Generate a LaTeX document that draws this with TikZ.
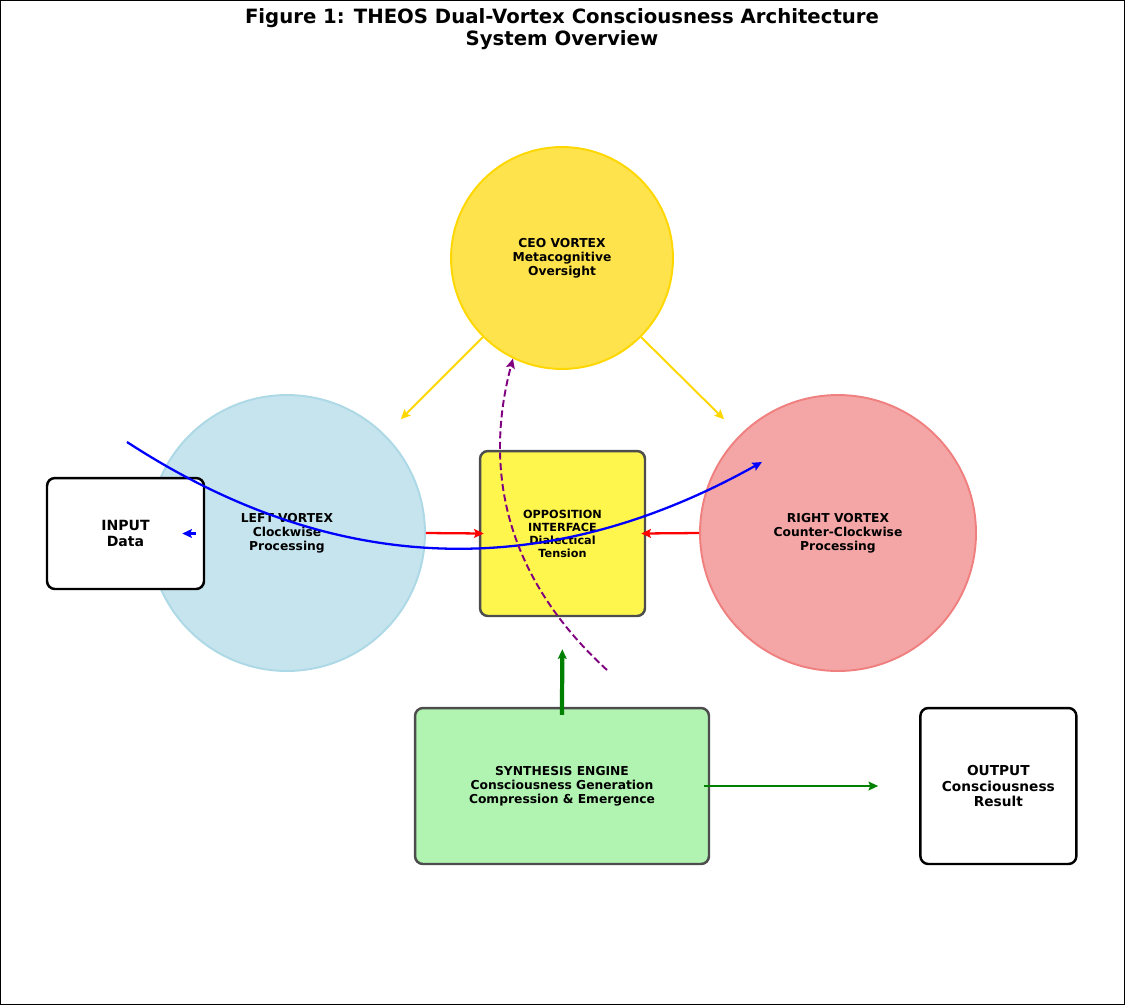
\documentclass[tikz,border=0pt]{standalone}
\usepackage{fontspec}
\setmainfont{DejaVu Sans}
\usepackage{tikz}
\usetikzlibrary{arrows.meta, positioning}
\definecolor{ceogold}{HTML}{FFD700}
\definecolor{leftblue}{HTML}{ADD8E6}
\definecolor{rightcoral}{HTML}{F08080}
\definecolor{synthgreen}{HTML}{90EE90}
\definecolor{flowgreen}{HTML}{008000}
\definecolor{metapurple}{HTML}{800080}
\definecolor{edgegray}{HTML}{4D4D4D}
\tikzstyle{vortex} = [circle, line width=1.1pt, align=center, inner sep=0pt, font=\fontsize{7}{8}\selectfont\bfseries]
\tikzstyle{block} = [rectangle, rounded corners=4.5pt, line width=1.4pt, align=center, inner sep=1mm, font=\fontsize{7}{8}\selectfont\bfseries]
\tikzstyle{arrow} = [line width=1.3pt, -{Stealth[length=5.5pt, width=5pt, inset=1pt]}]

\begin{document}
\begin{tikzpicture}[x=0.02cm, y=-0.02cm]
  \useasboundingbox (0,0) rectangle (1125,1005);
  \draw[line width=0.5pt] (0.5,0.5) rectangle (1124.5,1004.5);
  \node[align=center, font=\fontsize{11.2}{12.6}\selectfont\bfseries] (title) at (562,29) {Figure 1: THEOS Dual-Vortex Consciousness Architecture\\System Overview};

  % vortices
  \node[vortex, fill=ceogold!70, draw=ceogold, minimum size=4.44cm] (ceo) at (562,258) {CEO VORTEX\\Metacognitive\\Oversight};
  \node[vortex, fill=leftblue!70, draw=leftblue, minimum size=5.52cm] (left) at (287,533) {LEFT VORTEX\\Clockwise\\Processing};
  \node[vortex, fill=rightcoral!70, draw=rightcoral, minimum size=5.52cm] (right) at (838,533) {RIGHT VORTEX\\Counter-Clockwise\\Processing};

  % boxes
  \node[block, fill=yellow!70, draw=edgegray, minimum width=3.3cm, minimum height=3.3cm, font=\fontsize{6.4}{7.4}\selectfont\bfseries] (opp) at (562.5,533.5) {OPPOSITION\\INTERFACE\\Dialectical\\Tension};
  \node[block, fill=white, draw=black, minimum width=3.14cm, minimum height=2.22cm, font=\fontsize{8}{9}\selectfont\bfseries] (input) at (125.5,533.5) {INPUT\\Data};
  \node[block, fill=synthgreen!70, draw=edgegray, minimum width=5.88cm, minimum height=3.12cm] (synth) at (562,786) {SYNTHESIS ENGINE\\Consciousness Generation\\Compression \& Emergence};
  \node[block, fill=white, draw=black, minimum width=3.12cm, minimum height=3.12cm, font=\fontsize{7.8}{9}\selectfont\bfseries, right=4.18cm of synth] (output) {OUTPUT\\Consciousness\\Result};

  \coordinate (flowin) at (127,442);
  \coordinate (flowout) at (762,462);
  \coordinate (tension) at (607,670);

  % connectors
  \draw[arrow, ceogold, line width=1.1pt, shorten >=0.44cm] (ceo.225) -- (left.45);
  \draw[arrow, ceogold, line width=1.1pt, shorten >=0.44cm] (ceo.315) -- (right.135);
  \draw[arrow, red] (left.east) -- ([xshift=0.1cm]opp.west);
  \draw[arrow, red] (right.west) -- ([xshift=-0.1cm]opp.east);
  \draw[arrow, blue] ([xshift=-0.18cm]input.east) -- ([xshift=-0.46cm]input.east);
  \draw[arrow, blue] (flowin) .. controls (334,577) and (546,583) .. (flowout);
  \draw[arrow, metapurple, line width=1.1pt, dash pattern=on 4pt off 2pt] (tension) .. controls (512,583) and (481,479) .. (ceo.244);
  \draw[arrow, flowgreen, line width=2.4pt, shorten <=-0.16cm, shorten >=0.64cm] (synth.north) -- (opp.south);
  \draw[arrow, flowgreen, shorten <=-0.12cm, shorten >=0.82cm] (synth.east) -- (output.west);
\end{tikzpicture}
\end{document}
